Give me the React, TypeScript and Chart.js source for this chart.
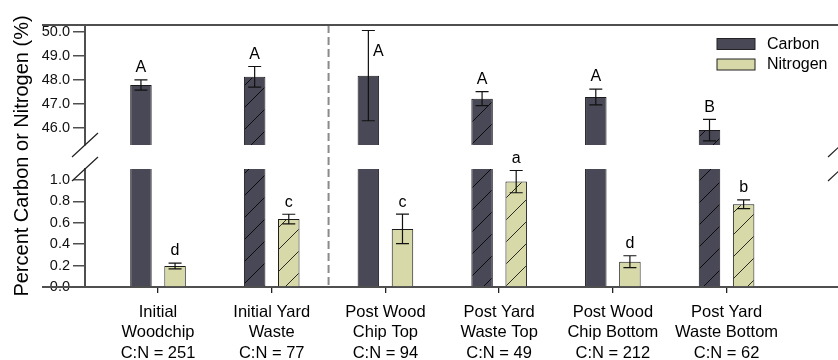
import React, { useEffect, useRef } from 'react';
import { Chart, registerables } from 'chart.js';

Chart.register(...registerables);

// Sample groups along the x axis (two-line names) and their C:N ratios
const categories: string[][] = [
  ['Initial', 'Woodchip'],
  ['Initial Yard', 'Waste'],
  ['Post Wood', 'Chip Top'],
  ['Post Yard', 'Waste Top'],
  ['Post Wood', 'Chip Bottom'],
  ['Post Yard', 'Waste Bottom'],
];
const cnRatios = [251, 77, 94, 49, 212, 62];

// Percent carbon (mean and error) per group
const carbonMean = [47.78, 48.12, 48.17, 47.21, 47.28, 45.9];
const carbonErr = [0.21, 0.43, 1.88, 0.29, 0.33, 0.45];
const carbonLetters = ['A', 'A', 'A', 'A', 'A', 'B'];

// Percent nitrogen (mean and error) per group
const nitrogenMean = [0.197, 0.635, 0.543, 0.985, 0.237, 0.773];
const nitrogenErr = [0.027, 0.045, 0.138, 0.104, 0.055, 0.041];
const nitrogenLetters = ['d', 'c', 'c', 'a', 'd', 'b'];

// Yard-waste groups are drawn with a diagonal hatch
const yardWaste = [false, true, false, true, false, true];

// Tick values for the upper (carbon) and lower (nitrogen) panels
const carbonTicks = [46, 47, 48, 49, 50];
const nitrogenTicks = [0, 0.2, 0.4, 0.6, 0.8, 1.0];

const FONT = "'Liberation Sans', Arial, Helvetica, sans-serif";
const CARBON = '#484857';
const NITROGEN = '#d7d9a8';
const AXIS = '#4f4f4f';
const INK = '#111111';

function hatch(fill: string, stroke: string): CanvasPattern {
  const size = 22;
  const c = document.createElement('canvas');
  c.width = size;
  c.height = size;
  const g = c.getContext('2d')!;
  g.fillStyle = fill;
  g.fillRect(0, 0, size, size);
  g.strokeStyle = stroke;
  g.lineWidth = 1;
  g.beginPath();
  g.moveTo(-2, size + 2);
  g.lineTo(size + 2, -2);
  g.moveTo(-2, 2);
  g.lineTo(2, -2);
  g.moveTo(size - 2, size + 2);
  g.lineTo(size + 2, size - 2);
  g.stroke();
  return g.createPattern(c, 'repeat')!;
}

const points = (vals: number[]) => vals.map((v, i) => ({ x: i, y: v }));

// Each dataset is clipped to the panel of its own y axis
const panelClip = {
  id: 'panelClip',
  beforeDatasetDraw(chart: any, args: any) {
    const { xScale, yScale } = args.meta;
    const ctx = chart.ctx;
    ctx.save();
    ctx.beginPath();
    ctx.rect(xScale.left, yScale.top, xScale.right - xScale.left, yScale.bottom - yScale.top);
    ctx.clip();
  },
  afterDatasetDraw(chart: any) {
    chart.ctx.restore();
  },
};

const decorations = {
  id: 'decorations',
  afterDatasetsDraw(chart: any) {
    const ctx = chart.ctx;
    const { chartArea } = chart;
    const yTop = chart.scales.yTop;
    const yBot = chart.scales.yBot;
    const x = chart.scales.x;
    const carbonMeta = chart.getDatasetMeta(0);
    const nitrogenMeta = chart.getDatasetMeta(2);

    ctx.save();
    // error bars
    ctx.strokeStyle = INK;
    ctx.lineWidth = 1.2;
    const errBar = (cx: number, hi: number, lo: number) => {
      ctx.beginPath();
      ctx.moveTo(cx, hi);
      ctx.lineTo(cx, lo);
      ctx.moveTo(cx - 6.5, hi);
      ctx.lineTo(cx + 6.5, hi);
      ctx.moveTo(cx - 6.5, lo);
      ctx.lineTo(cx + 6.5, lo);
      ctx.stroke();
    };
    ctx.font = `16px ${FONT}`;
    ctx.fillStyle = '#000';
    ctx.textAlign = 'center';
    ctx.textBaseline = 'middle';
    carbonMean.forEach((m, i) => {
      const cx = carbonMeta.data[i].x;
      const hi = yTop.getPixelForValue(m + carbonErr[i]);
      const lo = yTop.getPixelForValue(m - carbonErr[i]);
      errBar(cx, hi, lo);
      let ly = hi - 12;
      let lx = cx;
      if (ly < yTop.top + 12) {
        ly = yTop.top + 27;
        lx = cx + 10;
      }
      ctx.fillText(carbonLetters[i], lx, ly);
    });
    nitrogenMean.forEach((m, i) => {
      const cx = nitrogenMeta.data[i].x;
      const hi = yBot.getPixelForValue(m + nitrogenErr[i]);
      const lo = yBot.getPixelForValue(m - nitrogenErr[i]);
      errBar(cx, hi, lo);
      ctx.fillText(nitrogenLetters[i], cx, hi - 12);
    });

    // dashed divider between initial and post samples
    const dx = x.getPixelForValue(1.5);
    ctx.strokeStyle = '#8a8a8a';
    ctx.lineWidth = 2;
    ctx.setLineDash([8, 4]);
    ctx.beginPath();
    ctx.moveTo(dx, chartArea.top);
    ctx.lineTo(dx, chartArea.bottom);
    ctx.stroke();
    ctx.setLineDash([]);

    // top frame line and extended baseline
    ctx.strokeStyle = AXIS;
    ctx.lineWidth = 2;
    ctx.beginPath();
    ctx.moveTo(42, chartArea.top);
    ctx.lineTo(chartArea.right, chartArea.top);
    ctx.moveTo(42, chartArea.bottom);
    ctx.lineTo(chartArea.left, chartArea.bottom);
    ctx.stroke();

    // axis break marks
    ctx.strokeStyle = '#222';
    ctx.lineWidth = 1.2;
    ctx.beginPath();
    for (const bx of [chartArea.left, chartArea.right + 3]) {
      for (const by of [yTop.bottom, yBot.top]) {
        ctx.moveTo(bx - 13, by + 12);
        ctx.lineTo(bx + 13, by - 12);
      }
    }
    ctx.stroke();

    // legend
    const items = [
      { label: 'Carbon', color: CARBON },
      { label: 'Nitrogen', color: NITROGEN },
    ];
    ctx.textAlign = 'left';
    ctx.font = `16px ${FONT}`;
    items.forEach((it, k) => {
      const sy = 38.5 + k * 20.5;
      ctx.fillStyle = it.color;
      ctx.fillRect(717, sy, 38, 11);
      ctx.strokeStyle = '#222';
      ctx.lineWidth = 1;
      ctx.strokeRect(717, sy, 38, 11);
      ctx.fillStyle = '#000';
      ctx.fillText(it.label, 767, sy + 6);
    });

    // y axis title spanning both panels
    ctx.save();
    ctx.translate(22, (chartArea.top + chartArea.bottom) / 2);
    ctx.rotate(-Math.PI / 2);
    ctx.textAlign = 'center';
    ctx.font = `20px ${FONT}`;
    ctx.fillText('Percent Carbon or Nitrogen (%)', 0, 0);
    ctx.restore();

    ctx.restore();
  },
};

const tickFont = { size: 14.5, family: FONT };

const yAxisBase = (extra: any) => ({
  type: 'linear',
  position: 'left',
  stack: 'panels',
  stacked: false,
  beginAtZero: false,
  afterFit: (s: any) => {
    s.width = 85;
    s.paddingTop = 0;
    s.paddingBottom = 0;
  },
  grid: { display: true, drawOnChartArea: false, drawTicks: true, tickLength: 12, color: AXIS, lineWidth: 1.5 },
  border: { display: true, color: AXIS, width: 2 },
  ...extra,
});

export default function App() {
  const ref = useRef<HTMLCanvasElement>(null);

  useEffect(() => {
    const canvas = ref.current!;
    const carbonHatch = hatch(CARBON, '#0a0a0a');
    const nitrogenHatch = hatch(NITROGEN, '#2a2a22');
    const carbonFill = yardWaste.map((h) => (h ? carbonHatch : CARBON));
    const nitrogenFill = yardWaste.map((h) => (h ? nitrogenHatch : NITROGEN));

    const barStyle = {
      borderColor: '#1a1a1a',
      borderWidth: 1,
      categoryPercentage: 0.6,
      barPercentage: 0.63,
      clip: false,
    };

    const chart = new Chart(canvas, {
      type: 'bar',
      data: {
        datasets: [
          { label: 'Carbon', data: points(carbonMean), yAxisID: 'yTop', stack: 'carbon', backgroundColor: carbonFill, ...barStyle },
          { label: 'Carbon', data: points(carbonMean), yAxisID: 'yBot', stack: 'carbon', backgroundColor: carbonFill, ...barStyle },
          { label: 'Nitrogen', data: points(nitrogenMean), yAxisID: 'yBot', stack: 'nitrogen', backgroundColor: nitrogenFill, ...barStyle },
        ] as any,
      },
      options: {
        animation: false,
        responsive: true,
        maintainAspectRatio: false,
        layout: { padding: { top: 25, left: 0, right: 0, bottom: 0 }, autoPadding: false },
        font: { family: FONT, size: 16 },
        plugins: {
          legend: { display: false },
          title: { display: false },
          tooltip: { enabled: false },
        },
        scales: {
          x: {
            type: 'linear',
            min: -0.642,
            max: 5.98,
            offset: false,
            afterBuildTicks: (s: any) => {
              s.ticks = categories.map((_, i) => ({ value: i }));
            },
            afterFit: (s: any) => {
              s.height = 73;
              s.paddingLeft = 0;
              s.paddingRight = 0;
            },
            grid: { display: true, drawOnChartArea: false, drawTicks: true, tickLength: 6, color: '#222', lineWidth: 1.3, offset: false },
            border: { display: true, color: AXIS, width: 2 },
            ticks: {
              autoSkip: false,
              maxRotation: 0,
              minRotation: 0,
              padding: 9,
              color: '#000',
              font: { size: 16.5, family: FONT, lineHeight: 1.24 },
              callback: (v: any) => [...categories[v], `C:N = ${cnRatios[v]}`],
            },
          },
          yTop: yAxisBase({
            stackWeight: 120,
            weight: 2,
            min: 45.28,
            max: 50.28,
            afterBuildTicks: (s: any) => {
              s.ticks = carbonTicks.map((v) => ({ value: v }));
            },
            ticks: { autoSkip: false, padding: 3, color: '#111', font: tickFont, callback: (v: any) => Number(v).toFixed(1) },
          }),
          yGap: yAxisBase({
            stackWeight: 24,
            weight: 1,
            min: 0,
            max: 1,
            grid: { display: false },
            border: { display: false },
            ticks: { display: false },
          }),
          yBot: yAxisBase({
            stackWeight: 118,
            weight: 0,
            min: 0,
            max: 1.103,
            afterBuildTicks: (s: any) => {
              s.ticks = nitrogenTicks.map((v) => ({ value: v }));
            },
            ticks: { autoSkip: false, padding: 3, color: '#111', font: tickFont, callback: (v: any) => Number(v).toFixed(1) },
          }),
        } as any,
      },
      plugins: [panelClip, decorations],
    });
    return () => chart.destroy();
  }, []);

  return (
    <div style={{ position: 'fixed', left: 0, top: 0, width: 838, height: 360, background: '#fff' }}>
      <canvas ref={ref} />
    </div>
  );
}
